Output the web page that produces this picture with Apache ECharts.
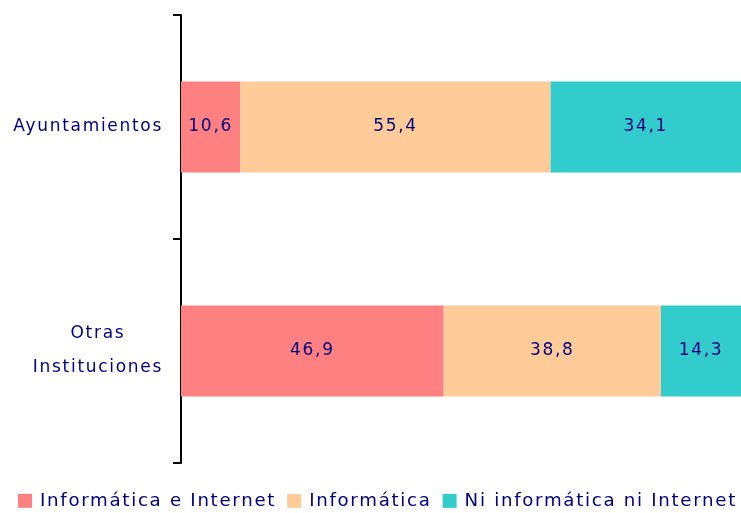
<!DOCTYPE html>
<html>
<head>
<meta charset="utf-8">
<script src="https://cdn.jsdelivr.net/npm/echarts@6/dist/echarts.min.js"></script>
<style>
  html, body { margin: 0; padding: 0; background: #fff; }
  #chart { width: 741px; height: 513px; }
</style>
</head>
<body>
<div id="chart"></div>
<script>
// categories, top to bottom
const categories = ['Ayuntamientos', 'Otras\nInstituciones'];
const seriesNames = ['Informática e Internet', 'Informática', 'Ni informática ni Internet'];
const informaticaInternet = [10.6, 46.9];
const informatica = [55.4, 38.8];
const niInformatica = [34.1, 14.3];

const colors = ['#FF8080', '#FFCC99', '#33CCCC'];
const navy = '#000080';
const font = 'DejaVu Sans';

// the original text is tracked out a little; canvas letterSpacing for both drawing and measuring
const LS = '1.7px';
const proto = CanvasRenderingContext2D.prototype;
const origFill = proto.fillText;
const origMeasure = proto.measureText;
proto.fillText = function () { this.letterSpacing = LS; return origFill.apply(this, arguments); };
proto.measureText = function () { this.letterSpacing = LS; return origMeasure.apply(this, arguments); };

const chart = echarts.init(document.getElementById('chart'));

const makeSeries = (name, data, color) => ({
  name: name,
  type: 'bar',
  stack: 'total',
  data: data,
  barWidth: 91,
  itemStyle: { color: color },
  label: {
    show: true,
    position: 'inside',
    color: navy,
    fontFamily: font,
    fontSize: 17,
    formatter: (p) => p.value.toFixed(1).replace('.', ',')
  }
});

chart.setOption({
  animation: false,
  color: colors,
  grid: { left: 181, right: 0, top: 15, bottom: 50 },
  legend: {
    top: 491,
    left: 18,
    width: 760,
    padding: 0,
    icon: 'rect',
    itemWidth: 14,
    itemHeight: 14,
    itemGap: 11,
    textStyle: { color: navy, fontFamily: font, fontSize: 18.2, padding: [0, 0, 0, 3] },
    data: seriesNames
  },
  xAxis: { type: 'value', min: 0, max: 100, show: false },
  yAxis: {
    type: 'category',
    inverse: true,
    data: categories,
    axisLine: { show: true, lineStyle: { color: '#000', width: 2 } },
    axisTick: { show: true, length: 8, lineStyle: { color: '#000', width: 2 } },
    axisLabel: {
      margin: 18,
      color: navy,
      fontFamily: font,
      fontSize: 17,
      lineHeight: 34,
      formatter: (v) => v.split('\n').map(s => '{c|' + s + '}').join('\n'),
      rich: { c: { align: 'center', color: navy, fontFamily: font, fontSize: 17, lineHeight: 34 } }
    }
  },
  series: [
    makeSeries(seriesNames[0], informaticaInternet, colors[0]),
    makeSeries(seriesNames[1], informatica, colors[1]),
    makeSeries(seriesNames[2], niInformatica, colors[2])
  ]
});
</script>
</body>
</html>
